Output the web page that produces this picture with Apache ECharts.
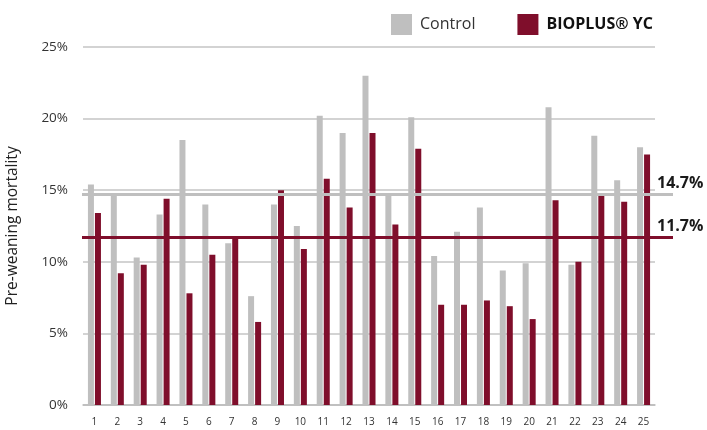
<!DOCTYPE html>
<html>
<head>
<meta charset="utf-8">
<script src="https://cdn.jsdelivr.net/npm/echarts@6/dist/echarts.min.js"></script>
<style>html,body{margin:0;padding:0;background:#fff}#c{width:707px;height:430px}</style>
</head>
<body>
<div id="c"></div>
<script>
var categories = ['1','2','3','4','5','6','7','8','9','10','11','12','13','14','15','16','17','18','19','20','21','22','23','24','25'];
var controlValues = [15.4,14.7,10.3,13.3,18.5,14.0,11.3,7.6,14.0,12.5,20.2,19.0,23.0,14.8,20.1,10.4,12.1,13.8,9.4,9.9,20.8,9.8,18.8,15.7,18.0];
var bioplusValues = [13.4,9.2,9.8,14.4,7.8,10.5,11.7,5.8,15.0,10.9,15.8,13.8,19.0,12.6,17.9,7.0,7.0,7.3,6.9,6.0,14.3,10.0,14.6,14.2,17.5];
var averageValues = [14.7, 11.7];
var averageLabels = ['14.7%', '11.7%'];
var yTicks = [0, 5, 10, 15, 20, 25];
var seriesNames = ['Control', 'BIOPLUS® YC'];

var GRAY = '#bfbfbf', RED = '#7f0e2b', FONT = '"Open Sans","Noto Sans",sans-serif';

function avgSeries(i, color) {
  return {
    type: 'line', xAxisIndex: 1, yAxisIndex: 1, silent: true, symbol: 'none',
    lineStyle: {color: color, width: 3}, z: 5,
    endLabel: {show: true, formatter: averageLabels[i], distance: 0, offset: [-16, -11],
      color: '#1a1a1a', fontSize: 16, fontWeight: 'bold', fontFamily: FONT},
    data: [[0, averageValues[i]], [1, averageValues[i]]]
  };
}

var chart = echarts.init(document.getElementById('c'));
chart.setOption({
  animation: false,
  textStyle: {fontFamily: FONT},
  legend: {
    left: 386, top: 9, itemWidth: 21, itemHeight: 21, itemGap: 42,
    icon: 'rect', data: seriesNames,
    formatter: function (n) { return n === seriesNames[1] ? '{b|' + n + '}' : '{n|' + n + '}'; },
    textStyle: {rich: {
      n: {fontSize: 16, color: '#333', fontFamily: FONT, padding: [0, 0, 0, 3]},
      b: {fontSize: 16, color: '#111', fontWeight: 'bold', fontFamily: FONT, padding: [0, 0, 0, 3]}
    }}
  },
  grid: [
    {left: 83, right: 52, top: 47, bottom: 25, outerBoundsMode: 'none', containLabel: false},
    {left: 82, right: 34, top: 47, bottom: 25, outerBoundsMode: 'none', containLabel: false}
  ],
  xAxis: [
    {type: 'category', data: categories, gridIndex: 0,
     axisLine: {lineStyle: {color: '#bbb', width: 1.5}}, axisTick: {show: false},
     axisLabel: {color: '#333', fontSize: 10, margin: 12, fontFamily: FONT}},
    {type: 'value', gridIndex: 1, min: 0, max: 1, show: false}
  ],
  yAxis: [
    {type: 'value', gridIndex: 0, min: yTicks[0], max: yTicks[yTicks.length - 1], interval: 5,
     name: 'Pre-weaning mortality', nameLocation: 'middle', nameGap: 62, nameRotate: 90,
     nameTextStyle: {fontSize: 15.5, color: '#222', fontFamily: FONT},
     axisLine: {show: false}, axisTick: {show: false},
     axisLabel: {color: '#333', fontSize: 13.5, margin: 15, formatter: '{value}%', fontFamily: FONT},
     splitLine: {lineStyle: {color: '#c4c4c4', width: 1.5}}},
    {type: 'value', gridIndex: 1, min: 0, max: 25, show: false}
  ],
  series: [
    {name: seriesNames[0], type: 'bar', data: controlValues, barWidth: 6, barGap: '17%',
     itemStyle: {color: GRAY}, z: 2},
    {name: seriesNames[1], type: 'bar', data: bioplusValues, barWidth: 6,
     itemStyle: {color: RED}, z: 3},
    avgSeries(0, GRAY),
    avgSeries(1, RED)
  ]
});
</script>
</body>
</html>
